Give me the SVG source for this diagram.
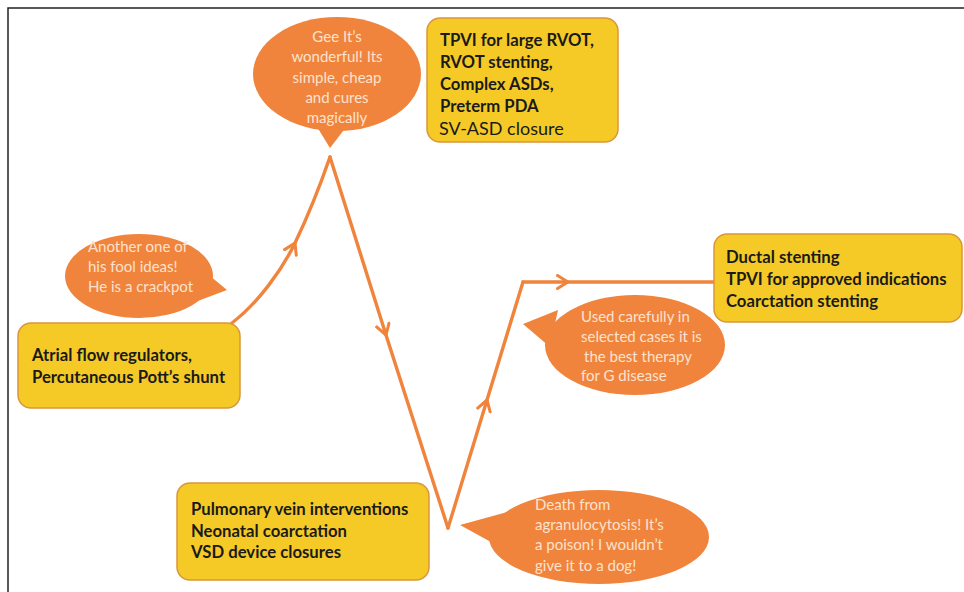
<svg xmlns="http://www.w3.org/2000/svg" width="964" height="592" viewBox="0 0 964 592">
<defs>
<style>
.box{fill:#F5CA27;stroke:#D9963C;stroke-width:1.5}
.bub{fill:#F0843C}
.bt{font-family:Lato,"Liberation Sans",sans-serif;font-size:15px;fill:#FCE2CF}
.tt{font-family:Lato,"Liberation Sans",sans-serif;font-size:16.7px;font-weight:bold;fill:#1a1a1a}
.tr{font-family:Lato,"Liberation Sans",sans-serif;font-size:18px;fill:#1a1a1a}
.ln{fill:none;stroke:#F0843C;stroke-width:3.4;stroke-linecap:round;stroke-linejoin:round;marker-mid:url(#chev)}
</style>
<marker id="chev" viewBox="0 0 14 16" refX="12" refY="8" markerWidth="14" markerHeight="16" markerUnits="userSpaceOnUse" orient="auto">
<path d="M1.5,1.5 L12,8 L1.5,14.5" fill="none" stroke="#F0843C" stroke-width="3" stroke-linecap="round" stroke-linejoin="round"/>
</marker>
</defs>
<rect width="964" height="592" fill="#ffffff"/>
<path d="M8,592 L8,8 L964,8" fill="none" stroke="#222" stroke-width="1.5"/>

<g id="connectors">
<path class="ln" d="M232,323 C258,303 282,270 295,243 C310,212 322,180 330,157"/>
<path class="ln" d="M330,157 L386,335 L448,528"/>
<path class="ln" d="M448,528 L487,400 L523,282"/>
<path class="ln" d="M523,282 L568,282 L714,282"/>
</g>

<g id="bubble-gee">
<ellipse class="bub" cx="337" cy="74" rx="84" ry="57"/>
<polygon class="bub" points="314,122 330,148 350,122"/>
<text class="bt" text-anchor="middle"><tspan x="337" y="42">Gee It’s</tspan><tspan x="337" y="62">wonderful! Its</tspan><tspan x="337" y="83">simple, cheap</tspan><tspan x="337" y="103">and cures</tspan><tspan x="337" y="123">magically</tspan></text>
</g>

<g id="box-tpvi">
<rect class="box" x="427" y="18" width="191" height="124" rx="13"/>
<text class="tt"><tspan x="440" y="46">TPVI for large RVOT,</tspan><tspan x="440" y="68">RVOT stenting,</tspan><tspan x="440" y="90">Complex ASDs,</tspan><tspan x="440" y="112">Preterm PDA</tspan></text>
<text class="tr" x="439" y="135">SV-ASD closure</text>
</g>

<g id="bubble-another">
<ellipse class="bub" cx="139" cy="276" rx="74" ry="42"/>
<polygon class="bub" points="198,266 227,290 195,302"/>
<text class="bt"><tspan x="88" y="252">Another one of</tspan><tspan x="88" y="272">his fool ideas!</tspan><tspan x="88" y="292">He is a crackpot</tspan></text>
</g>

<g id="box-atrial">
<rect class="box" x="18" y="323" width="222" height="85" rx="13"/>
<text class="tt"><tspan x="32" y="361">Atrial flow regulators,</tspan><tspan x="32" y="383">Percutaneous Pott’s shunt</tspan></text>
</g>

<g id="box-ductal">
<rect class="box" x="714" y="234" width="248" height="88" rx="13"/>
<text class="tt"><tspan x="726" y="263">Ductal stenting</tspan><tspan x="726" y="285">TPVI for approved indications</tspan><tspan x="726" y="307">Coarctation stenting</tspan></text>
</g>

<g id="bubble-used">
<ellipse class="bub" cx="635" cy="345" rx="90" ry="50"/>
<polygon class="bub" points="558,310 523,324 550,347"/>
<text class="bt"><tspan x="581" y="322">Used carefully in</tspan><tspan x="581" y="342">selected cases it is</tspan><tspan x="584" y="362">the best therapy</tspan><tspan x="581" y="381">for G disease</tspan></text>
</g>

<g id="box-pulmonary">
<rect class="box" x="177" y="483" width="252" height="97" rx="13"/>
<text class="tt"><tspan x="191" y="515">Pulmonary vein interventions</tspan><tspan x="191" y="537">Neonatal coarctation</tspan><tspan x="191" y="558">VSD device closures</tspan></text>
</g>

<g id="bubble-death">
<ellipse class="bub" cx="599" cy="537" rx="110" ry="47"/>
<polygon class="bub" points="515,510 460,525 500,547"/>
<text class="bt"><tspan x="535" y="510">Death from</tspan><tspan x="535" y="530">agranulocytosis! It’s</tspan><tspan x="535" y="550">a poison! I wouldn’t</tspan><tspan x="535" y="571">give it to a dog!</tspan></text>
</g>
</svg>
